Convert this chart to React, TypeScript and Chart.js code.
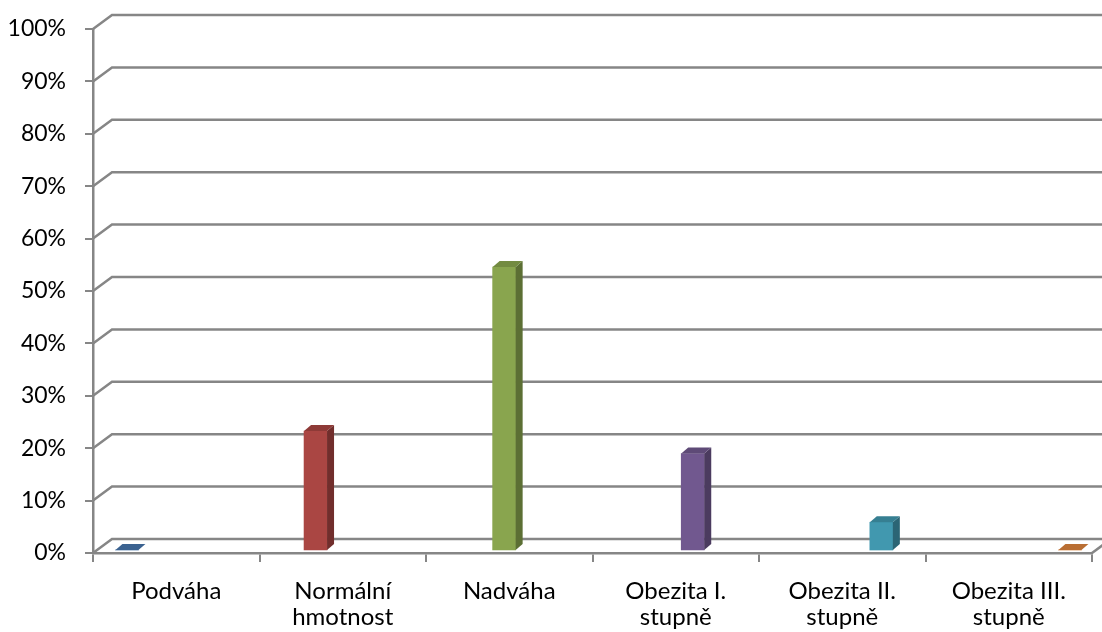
import React, { useEffect, useRef } from "react";
import { Chart, registerables } from "chart.js";

Chart.register(...registerables);

const categories: string[][] = [
  ["Podváha"],
  ["Normální", "hmotnost"],
  ["Nadváha"],
  ["Obezita I.", "stupně"],
  ["Obezita II.", "stupně"],
  ["Obezita III.", "stupně"],
];
const values: number[] = [0, 22.7, 54.0, 18.4, 5.3, 0];
const yTickValues: number[] = [0, 10, 20, 30, 40, 50, 60, 70, 80, 90, 100];

const frontColors = ["#4572A7", "#AA4643", "#89A54E", "#71588F", "#4198AF", "#DB843D"];
const topColors = ["#3B6290", "#8E3A37", "#738B41", "#5E4A77", "#367F92", "#B96E33"];
const sideColors = ["#2F4F74", "#712E2C", "#5C6F34", "#4B3B5F", "#2B6575", "#94582A"];

const GRID = "#868686";
const DEPTH_X = 19;
const DEPTH_Y = 14;
const BAR_DX = 7;
const BAR_DY = 6;

const wallPlugin = {
  id: "wall3d",
  beforeDatasetsDraw(chart: any) {
    const { ctx, chartArea, scales } = chart;
    const y = scales.y;
    const W = chart.width;
    ctx.save();
    ctx.strokeStyle = GRID;
    ctx.lineWidth = 2.5;
    yTickValues.forEach((v) => {
      const py = y.getPixelForValue(v);
      ctx.beginPath();
      ctx.moveTo(chartArea.left, py);
      ctx.lineTo(chartArea.left + DEPTH_X, py - DEPTH_Y);
      ctx.lineTo(W + 5, py - DEPTH_Y);
      ctx.stroke();
    });
    const p0 = y.getPixelForValue(0);
    ctx.beginPath();
    ctx.moveTo(chartArea.right, p0);
    ctx.lineTo(chartArea.right + DEPTH_X, p0 - DEPTH_Y);
    ctx.stroke();
    ctx.restore();
  },
};

const barPlugin = {
  id: "bar3d",
  afterDatasetsDraw(chart: any) {
    const { ctx } = chart;
    const meta = chart.getDatasetMeta(0);
    ctx.save();
    meta.data.forEach((el: any, i: number) => {
      const { x, y, base, width } = el.getProps(["x", "y", "base", "width"], true);
      const l = x - width / 2;
      const r = x + width / 2;
      ctx.fillStyle = sideColors[i];
      ctx.beginPath();
      ctx.moveTo(r, y);
      ctx.lineTo(r + BAR_DX, y - BAR_DY);
      ctx.lineTo(r + BAR_DX, base - BAR_DY);
      ctx.lineTo(r, base);
      ctx.closePath();
      ctx.fill();
      ctx.fillStyle = topColors[i];
      ctx.beginPath();
      ctx.moveTo(l, y);
      ctx.lineTo(l + BAR_DX, y - BAR_DY);
      ctx.lineTo(r + BAR_DX, y - BAR_DY);
      ctx.lineTo(r, y);
      ctx.closePath();
      ctx.fill();
    });
    ctx.restore();
  },
};

export default function App() {
  const ref = useRef<HTMLCanvasElement | null>(null);
  useEffect(() => {
    if (!ref.current) return;
    const chart = new Chart(ref.current, {
      type: "bar",
      data: {
        labels: categories as any,
        datasets: [
          {
            data: values.map((v, i) => ({ x: i, y: v })) as any,
            backgroundColor: frontColors,
            borderWidth: 0,
            barThickness: 23,
            xAxisID: "xb",
            yAxisID: "yb",
          },
        ],
      },
      plugins: [wallPlugin, barPlugin],
      options: {
        animation: false,
        responsive: false,
        maintainAspectRatio: false,
        devicePixelRatio: 1,
        layout: { padding: { top: 29, right: 10, left: 0, bottom: 0 } },
        plugins: { legend: { display: false }, tooltip: { enabled: false } },
        scales: {
          x: {
            type: "category",
            position: "bottom",
            offset: true,
            grid: {
              offset: true,
              drawOnChartArea: false,
              drawTicks: true,
              tickLength: 9,
              color: GRID,
              lineWidth: 2,
            },
            border: { display: true, color: GRID, width: 2.5 },
            ticks: {
              color: "#000",
              font: { family: "Lato", size: 24, lineHeight: 1.1 },
              padding: 16,
              maxRotation: 0,
              autoSkip: false,
            },
            afterFit(scale: any) {
              scale.height = 79;
              scale.paddingLeft = 0;
              scale.paddingRight = 0;
            },
          },
          xb: {
            type: "linear",
            display: false,
            offset: false,
            min: -0.18,
            max: 5.117,
          },
          y: {
            type: "linear",
            position: "left",
            min: 0,
            max: 100,
            ticks: {
              stepSize: 10,
              color: "#000",
              font: { family: "Lato", size: 23 },
              padding: 19,
              callback: (v: any) => v + "%",
            },
            grid: {
              drawOnChartArea: false,
              drawTicks: true,
              tickLength: 8,
              color: GRID,
              lineWidth: 2,
            },
            border: { display: true, color: GRID, width: 2.5 },
            afterFit(scale: any) {
              scale.width = 93;
              scale.paddingTop = 0;
              scale.paddingBottom = 0;
            },
          },
          yb: {
            type: "linear",
            display: false,
            min: -0.57,
            max: 99.43,
          },
        },
      } as any,
    });
    return () => chart.destroy();
  }, []);
  return (
    <div style={{ position: "fixed", left: 0, top: 0, width: 1102, height: 632, background: "#fff" }}>
      <canvas ref={ref} width={1102} height={632} style={{ display: "block" }} />
    </div>
  );
}
